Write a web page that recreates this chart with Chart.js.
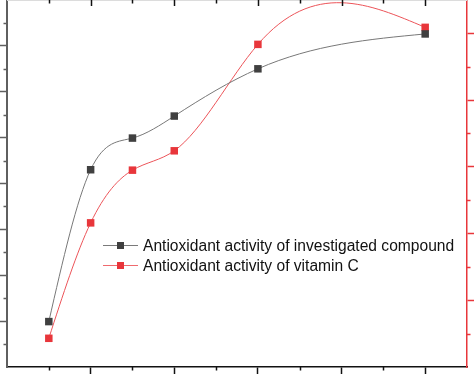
<!DOCTYPE html>
<html><head><meta charset="utf-8">
<script src="https://cdn.jsdelivr.net/npm/chart.js@4.4.0/dist/chart.umd.min.js"></script>
<style>html,body{margin:0;padding:0;background:#fff;}#wrap{width:474px;height:374px;position:relative;}</style>
</head><body><div id="wrap"><canvas id="c" width="474" height="374"></canvas></div>
<script>
// ---- data ----
const concentrations = [10, 20, 30, 40, 60, 100];
const compoundActivity = [9.9, 43.0, 49.9, 54.7, 65.0, 72.6];
const vitaminCActivity = [8.6, 43.2, 59.0, 64.8, 96.7, 101.8];
const seriesLabels = ['Antioxidant activity of investigated compound', 'Antioxidant activity of vitamin C'];
// ---- tick values (labels are cropped off in the reference) ----
const xMajorTicks = [20, 40, 60, 80, 100];
const xMinorTicks = [10, 30, 50, 70, 90];
const leftMajorTicks = [10, 20, 30, 40, 50, 60, 70];
const leftMinorTicks = [5, 15, 25, 35, 45, 55, 65, 75];
const rightMajorTicks = [20, 40, 60, 80, 100];
const rightMinorTicks = [10, 30, 50, 70, 90];

const GRAY_AXIS = '#5f5f5f', RED = '#e8363b', BLACK_PT = '#404040';

function toXY(xs, ys) { return xs.map((x, i) => ({x: x, y: ys[i]})); }

const naturalSpline = {
  id: 'naturalSpline',
  beforeDatasetsDraw(chart) {
    chart.data.datasets.forEach((ds, di) => {
      const meta = chart.getDatasetMeta(di);
      const line = meta.dataset;
      if (!line) return;
      if (typeof line.updateControlPoints === 'function') line.updateControlPoints(chart.chartArea, 'x');
      line._pointsUpdated = true;
      const pts = meta.data, n = pts.length;
      const xs = pts.map(p => p.x), ys = pts.map(p => p.y);
      const h = [];
      for (let i = 0; i < n - 1; i++) h[i] = xs[i + 1] - xs[i];
      const M = new Array(n).fill(0), a = [], b = [], c = [], d = [];
      for (let i = 1; i < n - 1; i++) {
        a[i] = h[i - 1]; b[i] = 2 * (h[i - 1] + h[i]); c[i] = h[i];
        d[i] = 6 * ((ys[i + 1] - ys[i]) / h[i] - (ys[i] - ys[i - 1]) / h[i - 1]);
      }
      for (let i = 2; i < n - 1; i++) { const w = a[i] / b[i - 1]; b[i] -= w * c[i - 1]; d[i] -= w * d[i - 1]; }
      for (let i = n - 2; i >= 1; i--) M[i] = (d[i] - (i < n - 2 ? c[i] * M[i + 1] : 0)) / b[i];
      for (let i = 0; i < n - 1; i++) {
        const s = (ys[i + 1] - ys[i]) / h[i];
        const m0 = s - h[i] * (2 * M[i] + M[i + 1]) / 6;
        const m1 = s + h[i] * (M[i] + 2 * M[i + 1]) / 6;
        pts[i].cp2x = xs[i] + h[i] / 3; pts[i].cp2y = ys[i] + m0 * h[i] / 3;
        pts[i + 1].cp1x = xs[i + 1] - h[i] / 3; pts[i + 1].cp1y = ys[i + 1] - m1 * h[i] / 3;
      }
      pts[0].cp1x = xs[0]; pts[0].cp1y = ys[0];
      pts[n - 1].cp2x = xs[n - 1]; pts[n - 1].cp2y = ys[n - 1];
      line._path = undefined;
    });
  }
};

const decorations = {
  id: 'decorations',
  afterDraw(chart) {
    const ctx = chart.ctx, area = chart.chartArea;
    const sx = chart.scales.x, sy = chart.scales.y, sy2 = chart.scales.y2;
    ctx.save();
    // top frame line
    ctx.strokeStyle = '#dcdcdc'; ctx.lineWidth = 2;
    ctx.beginPath(); ctx.moveTo(area.left, area.top); ctx.lineTo(area.right, area.top); ctx.stroke();
    // top ticks (inward)
    ctx.strokeStyle = '#111'; ctx.lineWidth = 1.5;
    xMajorTicks.forEach(v => { const x = Math.round(sx.getPixelForValue(v)) + 0.5; ctx.beginPath(); ctx.moveTo(x, area.top); ctx.lineTo(x, area.top + 6); ctx.stroke(); });
    xMinorTicks.forEach(v => { const x = Math.round(sx.getPixelForValue(v)) + 0.5; ctx.beginPath(); ctx.moveTo(x, area.top); ctx.lineTo(x, area.top + 3.5); ctx.stroke(); });
    // bottom minor ticks
    xMinorTicks.forEach(v => { const x = Math.round(sx.getPixelForValue(v)) + 0.5; ctx.beginPath(); ctx.moveTo(x, area.bottom); ctx.lineTo(x, area.bottom + 3.5); ctx.stroke(); });
    // left minor ticks
    ctx.strokeStyle = GRAY_AXIS;
    leftMinorTicks.forEach(v => { const y = Math.round(sy.getPixelForValue(v)) + 0.5; ctx.beginPath(); ctx.moveTo(area.left, y); ctx.lineTo(area.left - 3.5, y); ctx.stroke(); });
    // right minor ticks
    ctx.strokeStyle = RED;
    rightMinorTicks.forEach(v => { const y = Math.round(sy2.getPixelForValue(v)) + 0.5; ctx.beginPath(); ctx.moveTo(area.right, y); ctx.lineTo(area.right + 3.5, y); ctx.stroke(); });
    // legend
    const rows = [
      {label: seriesLabels[0], line: '#7a7a7a', mark: BLACK_PT, y: 245},
      {label: seriesLabels[1], line: '#ef6a6e', mark: RED, y: 265}
    ];
    ctx.font = '15.6px "Liberation Sans", Arial, sans-serif';
    ctx.textBaseline = 'alphabetic';
    rows.forEach(r => {
      ctx.strokeStyle = r.line; ctx.lineWidth = 1;
      ctx.beginPath(); ctx.moveTo(103, r.y + 0.5); ctx.lineTo(138, r.y + 0.5); ctx.stroke();
      ctx.fillStyle = r.mark; ctx.fillRect(117, r.y - 3, 7, 7);
      ctx.fillStyle = '#111'; ctx.fillText(r.label, 143, r.y + 6);
    });
    ctx.restore();
  }
};

new Chart(document.getElementById('c'), {
  type: 'line',
  data: {
    datasets: [
      {label: seriesLabels[0], data: toXY(concentrations, compoundActivity), yAxisID: 'y',
       borderColor: '#787878', borderWidth: 1, tension: 0.4, pointStyle: 'rect', pointRadius: 5.3,
       pointBackgroundColor: BLACK_PT, pointBorderColor: BLACK_PT, pointBorderWidth: 0, clip: false},
      {label: seriesLabels[1], data: toXY(concentrations, vitaminCActivity), yAxisID: 'y2',
       borderColor: '#ec5459', borderWidth: 1, tension: 0.4, pointStyle: 'rect', pointRadius: 5.3,
       pointBackgroundColor: RED, pointBorderColor: RED, pointBorderWidth: 0, clip: false}
    ]
  },
  options: {
    responsive: false, animation: false, devicePixelRatio: 1,
    layout: {padding: 0, autoPadding: false},
    plugins: {legend: {display: false}, tooltip: {enabled: false}},
    scales: {
      x: {type: 'linear', position: 'bottom', min: 0, max: 110,
          afterBuildTicks: s => { s.ticks = xMajorTicks.map(v => ({value: v})); },
          afterFit: s => { s.height = 7; },
          ticks: {display: false},
          grid: {drawOnChartArea: false, drawTicks: true, tickLength: 7, tickColor: '#111', tickWidth: 1.5},
          border: {display: true, color: '#111', width: 1.5}},
      y: {type: 'linear', position: 'left', min: 0, max: 80,
          afterBuildTicks: s => { s.ticks = leftMajorTicks.map(v => ({value: v})); },
          afterFit: s => { s.width = 7; },
          ticks: {display: false},
          grid: {drawOnChartArea: false, drawTicks: true, tickLength: 7, tickColor: GRAY_AXIS, tickWidth: 1.5},
          border: {display: true, color: GRAY_AXIS, width: 2}},
      y2: {type: 'linear', position: 'right', min: 0, max: 110,
          afterBuildTicks: s => { s.ticks = rightMajorTicks.map(v => ({value: v})); },
          afterFit: s => { s.width = 7; },
          ticks: {display: false},
          grid: {drawOnChartArea: false, drawTicks: true, tickLength: 7, tickColor: RED, tickWidth: 1.5},
          border: {display: true, color: RED, width: 1.5}}
    }
  },
  plugins: [naturalSpline, decorations]
});
</script>
</body></html>
